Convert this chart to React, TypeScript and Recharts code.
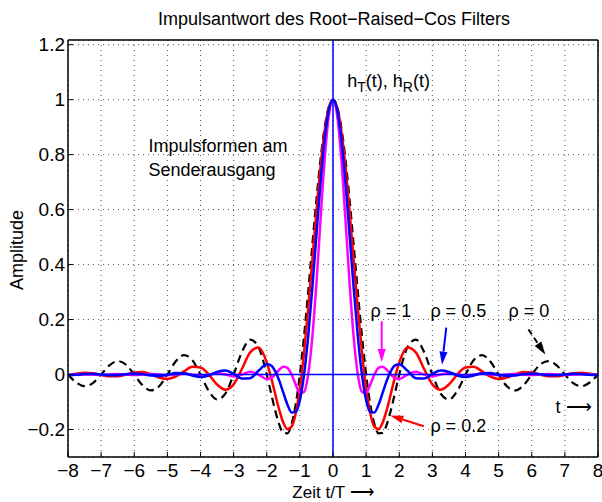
import React from "react";
import {
  LineChart,
  Line,
  XAxis,
  YAxis,
  CartesianGrid,
  ReferenceLine,
  ReferenceDot,
} from "recharts";

const FONT = '"Liberation Sans", Arial, Helvetica, sans-serif';
const ARROW_FONT = '"DejaVu Sans", sans-serif';

// t/T sample points (finer near the main lobe)
const time = [
  -8, -7.75, -7.5, -7.25, -7, -6.75, -6.5, -6.25, -6, -5.75, -5.5, -5.25, -5, -4.75, -4.5, -4.25,
  -4, -3.75, -3.5, -3.25, -3, -2.75, -2.5, -2.25, -2, -1.875, -1.75, -1.625, -1.5, -1.375, -1.25,
  -1.125, -1, -0.875, -0.75, -0.625, -0.5, -0.375, -0.25, -0.125, 0, 0.125, 0.25, 0.375, 0.5,
  0.625, 0.75, 0.875, 1, 1.125, 1.25, 1.375, 1.5, 1.625, 1.75, 1.875, 2, 2.25, 2.5, 2.75, 3,
  3.25, 3.5, 3.75, 4, 4.25, 4.5, 4.75, 5, 5.25, 5.5, 5.75, 6, 6.25, 6.5, 6.75, 7, 7.25, 7.5,
  7.75, 8,
];

// rho = 0 (black dashed)
const rho0 = [
  0, -0.029, -0.0424, -0.031, 0, 0.0333, 0.049, 0.036, 0, -0.0391, -0.0579, -0.0429, 0, 0.0474,
  0.0707, 0.053, 0, -0.06, -0.0909, -0.0693, 0, 0.0818, 0.1273, 0.1, 0, -0.065, -0.1286, -0.181,
  -0.2122, -0.2139, -0.1801, -0.1083, 0, 0.1392, 0.3001, 0.4705, 0.6366, 0.7842, 0.9003, 0.9745,
  1,
  0.9745, 0.9003, 0.7842, 0.6366, 0.4705, 0.3001, 0.1392, 0, -0.1083, -0.1801, -0.2139, -0.2122,
  -0.181, -0.1286, -0.065, 0, 0.1, 0.1273, 0.0818, 0, -0.0693, -0.0909, -0.06, 0, 0.053, 0.0707,
  0.0474, 0, -0.0429, -0.0579, -0.0391, 0, 0.036, 0.049, 0.0333, 0, -0.031, -0.0424, -0.029, 0,
];

// rho = 0.2 (red)
const rho02 = [
  -0.0028, 0.0032, 0.0069, 0.0051, -0.0011, -0.0066, -0.0065, 0, 0.0075, 0.0089, 0.0012, -0.0106,
  -0.0161, -0.0078, 0.0116, 0.0281, 0.0259, 0, -0.036, -0.0552, -0.0358, 0.0202, 0.0805, 0.0986,
  0.0442, -0.0078, -0.0683, -0.1279, -0.1751, -0.199, -0.1896, -0.1406, -0.0498, 0.0795, 0.2392,
  0.4162, 0.5946, 0.757, 0.887, 0.9709,
  1,
  0.9709, 0.887, 0.757, 0.5946, 0.4162, 0.2392, 0.0795, -0.0498, -0.1406, -0.1896, -0.199,
  -0.1751, -0.1279, -0.0683, -0.0078, 0.0442, 0.0986, 0.0805, 0.0202, -0.0358, -0.0552, -0.036, 0,
  0.0259, 0.0281, 0.0116, -0.0078, -0.0161, -0.0106, 0.0012, 0.0089, 0.0075, 0, -0.0065, -0.0066,
  -0.0011, 0.0051, 0.0069, 0.0032, -0.0028,
];

// rho = 0.5 (blue)
const rho05 = [
  -0.0022, -0.0008, 0.0019, 0.0026, 0.0002, -0.0026, -0.0022, 0.0015, 0.0039, 0.0015, -0.0036,
  -0.0052, -0.0006, 0.0052, 0.0044, -0.0034, -0.0089, -0.0034, 0.0094, 0.0145, 0.0027, -0.0145,
  -0.0132, 0.0136, 0.0373, 0.0334, 0.0136, -0.0214, -0.066, -0.1095, -0.138, -0.1367, -0.0934,
  -0.0013, 0.138, 0.3143, 0.5091, 0.6987, 0.8574, 0.963,
  1,
  0.963, 0.8574, 0.6987, 0.5091, 0.3143, 0.138, -0.0013, -0.0934, -0.1367, -0.138, -0.1095, -0.066,
  -0.0214, 0.0136, 0.0334, 0.0373, 0.0136, -0.0132, -0.0145, 0.0027, 0.0145, 0.0094, -0.0034,
  -0.0089, -0.0034, 0.0044, 0.0052, -0.0006, -0.0052, -0.0036, 0.0015, 0.0039, 0.0015, -0.0022,
  -0.0026, 0.0002, 0.0026, 0.0019, -0.0008, -0.0022,
];

// rho = 1 (magenta)
const rho1 = [
  -0.001, 0, 0.0011, 0, -0.0013, 0, 0.0015, 0, -0.0017, 0, 0.0021, 0, -0.0025, 0, 0.0031, 0,
  -0.0039, 0, 0.0051, 0, -0.007, 0, 0.0101, 0, -0.0159, -0.0128, 0, 0.0171, 0.0286, 0.0242, 0,
  -0.0367, -0.0667, -0.0629, 0, 0.1347, 0.3333, 0.5657, 0.7854, 0.9428,
  1,
  0.9428, 0.7854, 0.5657, 0.3333, 0.1347, 0, -0.0629, -0.0667, -0.0367, 0, 0.0242, 0.0286, 0.0171,
  0, -0.0128, -0.0159, 0, 0.0101, 0, -0.007, 0, 0.0051, 0, -0.0039, 0, 0.0031, 0, -0.0025, 0,
  0.0021, 0, -0.0017, 0, 0.0015, 0, -0.0013, 0, 0.0011, 0, -0.001,
];

const xTicks = [-8, -7, -6, -5, -4, -3, -2, -1, 0, 1, 2, 3, 4, 5, 6, 7, 8];
const yTicks = [-0.2, 0, 0.2, 0.4, 0.6, 0.8, 1, 1.2];

const data = time.map((t, i) => ({
  t,
  r0: rho0[i],
  r02: rho02[i],
  r05: rho05[i],
  r1: rho1[i],
}));

const fmt = (v: number) => (v < 0 ? "\u2212" + Math.abs(v) : String(v));

const tickStyle = { fill: "#000", fontSize: 19, fontFamily: FONT };
const frame = { stroke: "#000", strokeWidth: 1.5 };

function arrow(color: string, dashed = false) {
  return (p: any) => {
    const { x1, y1, x2, y2 } = p;
    const a = Math.atan2(y2 - y1, x2 - x1);
    const L = 13;
    const W = 4;
    const bx = x2 - L * Math.cos(a);
    const by = y2 - L * Math.sin(a);
    const pts = `${x2},${y2} ${bx - W * Math.sin(a)},${by + W * Math.cos(a)} ${bx + W * Math.sin(a)},${by - W * Math.cos(a)}`;
    return (
      <g>
        <line
          x1={x1}
          y1={y1}
          x2={bx}
          y2={by}
          stroke={color}
          strokeWidth={2}
          strokeDasharray={dashed ? "6 4" : undefined}
        />
        <polygon points={pts} fill={color} />
      </g>
    );
  };
}

function note(text: string) {
  return (p: any) => (
    <text x={p.cx} y={p.cy} fontSize={18} fontFamily={FONT} fill="#000">
      {text}
    </text>
  );
}

const tArrow = (p: any) => (
  <text x={p.cx} y={p.cy} fontSize={18} fontFamily={FONT} fill="#000">
    t <tspan fontFamily={ARROW_FONT} fontWeight={300}>{"\u27f6"}</tspan>
  </text>
);

const hLabel = (p: any) => (
  <text x={p.cx} y={p.cy} fontSize={18} fontFamily={FONT} fill="#000">
    <tspan>h</tspan>
    <tspan dy={5} fontSize={14}>T</tspan>
    <tspan dy={-5}>(t), h</tspan>
    <tspan dy={5} fontSize={14}>R</tspan>
    <tspan dy={-5}>(t)</tspan>
  </text>
);

export default function App() {
  return (
    <div style={{ position: "absolute", left: 0, top: 0, width: 602, height: 502, background: "#fff" }}>
      <LineChart width={602} height={502} data={data} margin={{ top: 39, right: 3, bottom: 0, left: 0 }}>
        <CartesianGrid stroke="#555" strokeDasharray="1 4" />
        <XAxis
          dataKey="t"
          type="number"
          domain={[-8, 8]}
          ticks={xTicks}
          interval={0}
          allowDataOverflow
          tickFormatter={fmt}
          height={45}
          stroke="#000"
          axisLine={frame}
          tickSize={-5}
          tickMargin={12}
          tick={tickStyle}
        />
        <XAxis
          xAxisId="top"
          orientation="top"
          dataKey="t"
          type="number"
          domain={[-8, 8]}
          ticks={xTicks}
          interval={0}
          allowDataOverflow
          height={1}
          stroke="#000"
          axisLine={frame}
          tickSize={-5}
          tick={false}
        />
        <YAxis
          type="number"
          domain={[-0.3, 1.217]}
          ticks={yTicks}
          interval={0}
          allowDataOverflow
          tickFormatter={fmt}
          width={68}
          stroke="#000"
          axisLine={frame}
          tickSize={-5}
          tickMargin={8}
          tick={tickStyle}
        />
        <YAxis
          yAxisId="right"
          orientation="right"
          type="number"
          domain={[-0.3, 1.217]}
          ticks={yTicks}
          interval={0}
          allowDataOverflow
          width={1}
          stroke="#000"
          axisLine={frame}
          tickSize={-5}
          tick={false}
        />
        <Line dataKey="r0" type="monotone" stroke="#000" strokeWidth={2.2} strokeDasharray="8 5" dot={false} isAnimationActive={false} />
        <Line dataKey="r02" type="monotone" stroke="#ff0000" strokeWidth={2.5} dot={false} isAnimationActive={false} />
        <Line dataKey="r1" type="monotone" stroke="#ff00ff" strokeWidth={2.5} dot={false} isAnimationActive={false} />
        <Line dataKey="r05" type="monotone" stroke="#0000ff" strokeWidth={2.5} dot={false} isAnimationActive={false} />
        <ReferenceLine x={0} stroke="#0000ff" strokeWidth={1.5} />
        <ReferenceLine y={0} stroke="#0000ff" strokeWidth={1.5} />
        <ReferenceLine segment={[{ x: 1.47, y: 0.194 }, { x: 1.47, y: 0.046 }]} shape={arrow("#ff00ff")} />
        <ReferenceLine segment={[{ x: 3.42, y: 0.171 }, { x: 3.29, y: 0.036 }]} shape={arrow("#0000ff")} />
        <ReferenceLine segment={[{ x: 5.9, y: 0.164 }, { x: 6.41, y: 0.073 }]} shape={arrow("#000", true)} />
        <ReferenceLine segment={[{ x: 2.74, y: -0.188 }, { x: 1.73, y: -0.149 }]} shape={arrow("#ff0000")} />
        <ReferenceDot x={0.43} y={1.046} r={0} shape={hLabel} />
        <ReferenceDot x={-5.57} y={0.808} r={0} shape={note("Impulsformen am")} />
        <ReferenceDot x={-5.57} y={0.724} r={0} shape={note("Senderausgang")} />
        <ReferenceDot x={1.13} y={0.208} r={0} shape={note("\u03c1 = 1")} />
        <ReferenceDot x={2.94} y={0.208} r={0} shape={note("\u03c1 = 0.5")} />
        <ReferenceDot x={5.3} y={0.208} r={0} shape={note("\u03c1 = 0")} />
        <ReferenceDot x={6.72} y={-0.139} r={0} shape={tArrow} />
        <ReferenceDot x={2.94} y={-0.208} r={0} shape={note("\u03c1 = 0.2")} />
      </LineChart>
      <svg width={602} height={502} style={{ position: "absolute", left: 0, top: 0, pointerEvents: "none" }}>
        <text x={334} y={25} textAnchor="middle" fontSize={18} fontFamily={FONT} fill="#000">
          Impulsantwort des Root{"\u2212"}Raised{"\u2212"}Cos Filters
        </text>
        <text x={23} y={250} textAnchor="middle" fontSize={18} fontFamily={FONT} fill="#000" transform="rotate(-90 23 250)">
          Amplitude
        </text>
        <text x={333} y={498} textAnchor="middle" fontSize={17} fontFamily={FONT} fill="#000">
          Zeit t/T <tspan fontFamily={ARROW_FONT} fontWeight={300}>{"\u27f6"}</tspan>
        </text>
      </svg>
    </div>
  );
}
